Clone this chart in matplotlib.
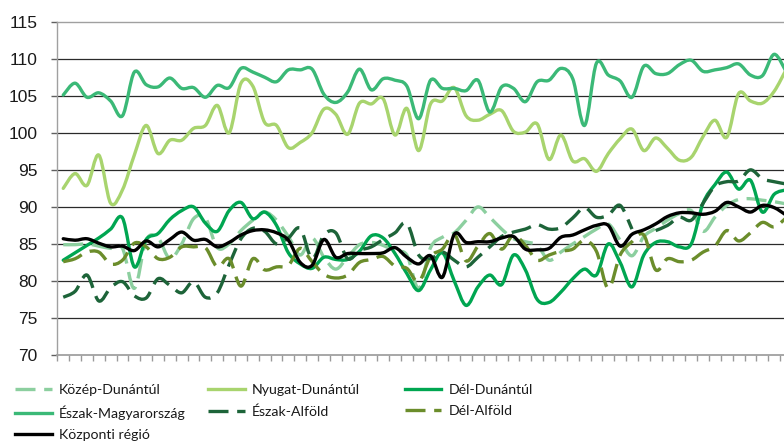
import numpy as np
import matplotlib
matplotlib.use("Agg")
import matplotlib.pyplot as plt
from matplotlib.path import Path
from matplotlib.patches import PathPatch
from matplotlib.lines import Line2D

# Havi indexértékek régiónként (leolvasva az ábráról)
kozep_dunantul = [84.9, 84.9, 85.0, 84.7, 84.4, 84.4, 79.0, 85.5, 85.8, 83.0,
                  85.0, 88.4, 88.5, 84.5, 85.0, 86.8, 88.2, 89.3, 88.2, 86.0,
                  83.5, 85.8, 83.2, 81.6, 83.2, 84.9, 85.2, 84.8, 84.0, 83.5,
                  79.0, 84.5, 85.9, 86.5, 88.2, 90.0, 88.6, 87.0, 85.7, 85.3,
                  84.8, 82.8, 83.9, 85.0, 86.0, 87.0, 87.7, 85.5, 83.4, 86.0,
                  87.1, 88.2, 89.1, 89.5, 86.7, 88.6, 90.2, 91.0, 91.1, 90.9,
                  90.7, 90.4]
nyugat_dunantul = [92.5, 94.5, 92.9, 97.0, 90.5, 92.3, 97.0, 101.0, 97.2, 99.0,
                   99.0, 100.6, 101.0, 103.7, 100.0, 106.7, 106.3, 101.4, 101.0, 98.0,
                   98.7, 100.0, 103.2, 102.5, 99.8, 104.0, 103.9, 104.6, 99.7, 103.3,
                   97.6, 103.9, 104.3, 106.1, 102.3, 101.7, 102.5, 103.0, 100.2, 100.1,
                   101.2, 96.4, 99.7, 96.2, 96.5, 94.8, 97.2, 99.2, 100.5, 97.6,
                   99.3, 97.9, 96.3, 96.7, 99.5, 101.7, 99.4, 105.3, 104.3, 104.0,
                   105.6, 108.5]
del_dunantul = [82.8, 83.8, 84.8, 85.8, 87.0, 88.5, 81.9, 85.6, 86.4, 88.3,
                89.5, 90.0, 87.8, 86.7, 89.5, 90.6, 88.4, 89.3, 87.5, 83.8,
                82.3, 81.7, 83.2, 82.9, 82.9, 84.0, 86.1, 85.8, 83.7, 81.0,
                78.7, 81.5, 83.8, 80.0, 76.7, 79.2, 80.8, 79.5, 83.5, 81.5,
                77.5, 77.1, 78.5, 80.3, 81.6, 80.8, 85.0, 82.5, 79.2, 83.5,
                85.2, 85.3, 84.6, 85.0, 90.5, 93.0, 94.7, 92.4, 93.6, 89.3,
                91.7, 92.3]
eszak_magyarorszag = [105.1, 106.7, 104.8, 105.4, 104.3, 102.3, 108.2, 106.5, 106.2, 107.4,
                      106.0, 106.1, 104.8, 106.4, 106.1, 108.7, 108.2, 107.5, 106.9, 108.5,
                      108.5, 108.6, 105.2, 104.1, 105.5, 108.6, 105.8, 107.3, 107.1, 106.3,
                      101.9, 107.1, 106.0, 106.0, 105.7, 107.1, 102.8, 106.2, 106.0, 104.2,
                      106.9, 107.1, 108.7, 107.3, 101.0, 109.4, 107.8, 107.0, 104.8, 109.0,
                      108.0, 108.0, 109.2, 109.8, 108.3, 108.5, 108.8, 109.3, 107.8, 107.7,
                      110.6, 108.3]
eszak_alfold = [77.8, 78.6, 80.8, 77.3, 79.1, 79.9, 78.0, 77.7, 80.3, 79.4,
                78.4, 79.9, 77.8, 78.4, 82.2, 85.7, 87.1, 86.7, 85.0, 85.8,
                87.1, 83.0, 86.2, 86.5, 83.0, 84.1, 84.6, 85.6, 86.5, 87.8,
                83.5, 83.0, 83.9, 82.8, 81.9, 83.2, 84.6, 86.0, 86.6, 87.0,
                87.6, 87.0, 87.2, 88.5, 89.9, 88.6, 88.9, 90.2, 87.0, np.nan,
                86.8, 87.5, 88.6, 88.2, 90.5, 92.8, 93.4, 93.5, 95.0, 93.8,
                93.4, 93.1]
del_alfold = [82.6, 83.0, 83.9, 83.9, 82.3, 82.8, 85.1, 84.6, 83.0, 83.2,
              84.6, 84.6, 84.5, 81.9, 83.0, 79.3, 83.0, 81.5, 81.9, 82.1,
              84.4, 82.6, 80.9, 80.4, 80.8, 82.5, 82.9, 83.3, 82.0, 81.7,
              79.9, 83.3, 84.3, 86.3, 82.7, 84.7, 86.4, 84.3, 86.2, 84.8,
              82.8, 83.5, 84.0, 84.3, 85.5, 84.0, 79.0, 83.5, 85.3, 86.2,
              81.5, 83.0, 82.6, 82.8, 83.9, 84.7, 86.8, 85.4, 86.5, 87.9,
              87.3, 88.5]
kozponti_regio = [85.7, 85.5, 85.7, 85.1, 84.6, 84.7, 84.1, 85.4, 84.6, 85.6,
                  86.6, 85.5, 85.6, 84.6, 85.2, 86.2, 86.8, 86.9, 86.5, 85.5,
                  82.5, 82.1, 85.6, 83.2, 83.7, 83.7, 83.7, 83.8, 84.5, 83.2,
                  82.3, 83.4, 80.5, 86.3, 85.2, 85.3, 85.3, 85.8, 86.0, 84.3,
                  84.2, 84.4, 85.9, 86.2, 86.9, 87.5, 87.5, 84.7, 86.3, 86.9,
                  87.7, 88.7, 89.2, 89.2, 89.0, 89.4, 90.6, 90.0, 89.3, 90.2,
                  89.9, 88.9]

DASH = (6, 2.6)
series = [
    ("Közép-Dunántúl", kozep_dunantul, "#8ccf9f", DASH),
    ("Nyugat-Dunántúl", nyugat_dunantul, "#a8d46e", None),
    ("Dél-Dunántúl", del_dunantul, "#00a651", None),
    ("Észak-Magyarország", eszak_magyarorszag, "#3bb977", None),
    ("Észak-Alföld", eszak_alfold, "#1d6439", DASH),
    ("Dél-Alföld", del_alfold, "#6b8d2b", DASH),
    ("Központi régió", kozponti_regio, "#000000", None),
]


def smooth_path(xs, ys):
    """Sima (Excel-szerű) görbe a pontokon át, köbös Bézier-szakaszokkal."""
    verts, codes = [], []
    ys = np.asarray(ys, float)
    ok = ~np.isnan(ys)
    i = 0
    while i < len(ys):
        if not ok[i]:
            i += 1
            continue
        j = i
        while j + 1 < len(ys) and ok[j + 1]:
            j += 1
        px, py = xs[i:j + 1], ys[i:j + 1]
        m = len(px)
        verts.append((px[0], py[0])); codes.append(Path.MOVETO)
        for k in range(m - 1):
            k0, k2 = max(k - 1, 0), min(k + 2, m - 1)
            c1 = (px[k] + (px[k + 1] - px[k0]) / 6, py[k] + (py[k + 1] - py[k0]) / 6)
            c2 = (px[k + 1] - (px[k2] - px[k]) / 6, py[k + 1] - (py[k2] - py[k]) / 6)
            verts += [c1, c2, (px[k + 1], py[k + 1])]
            codes += [Path.CURVE4] * 3
        i = j + 1
    return Path(verts, codes)


fig = plt.figure(figsize=(7.84, 4.45), dpi=100)
ax = fig.add_axes([0.0731, 0.2022, 0.9269, 0.749])

n = len(kozponti_regio)
x = np.arange(n, dtype=float)
handles = {}
for name, vals, color, dash in series:
    lw = 2.4
    ls = (0, dash) if dash else "solid"
    ax.add_patch(PathPatch(smooth_path(x, vals), fill=False, edgecolor=color,
                           lw=lw, linestyle=ls, joinstyle="round",
                           capstyle="butt" if dash else "round"))
    h = Line2D([], [], color=color, lw=lw)
    if dash:
        h.set_dashes(dash)
    handles[name] = h

ax.set_xlim(-0.5, 60.83)
ax.set_ylim(70, 115)
ax.set_yticks(np.arange(70, 116, 5))
ax.set_xticks(np.arange(-0.5, 61, 1))
ax.set_xticklabels([])

for yv in range(75, 115, 5):
    ax.axhline(yv, color="#2a2a2a", lw=0.9, zorder=0)

ax.spines["right"].set_visible(False)
ax.spines["top"].set_color("#a0a0a0")
ax.spines["top"].set_linewidth(1.0)
ax.spines["left"].set_color("#a0a0a0")
ax.spines["left"].set_linewidth(1.0)
ax.spines["bottom"].set_color("#a0a0a0")
ax.spines["bottom"].set_linewidth(1.3)

ax.tick_params(axis="y", direction="out", length=4, width=1, color="#606060",
               pad=10, labelsize=12.5)
ax.tick_params(axis="x", direction="out", length=4, width=1, color="#9a9a9a")
for lab in ax.get_yticklabels():
    lab.set_fontfamily(["Liberation Sans", "DejaVu Sans"])
    lab.set_color("#1a1a1a")

# Jelmagyarázat: három oszlop, soronként kitöltve
columns = [
    (0.019, ["Közép-Dunántúl", "Észak-Magyarország", "Központi régió"]),
    (0.265, ["Nyugat-Dunántúl", "Észak-Alföld"]),
    (0.516, ["Dél-Dunántúl", "Dél-Alföld"]),
]
for xa, names in columns:
    leg = fig.legend([handles[k] for k in names], names, loc="upper left",
                     bbox_to_anchor=(xa, 0.137), frameon=False,
                     handlelength=2.6, handletextpad=0.5, labelspacing=0.66,
                     borderpad=0, borderaxespad=0,
                     prop={"family": ["Lato", "DejaVu Sans"], "size": 10.2})
    for t in leg.get_texts():
        t.set_color("#1a1a1a")

fig.savefig("out.png", dpi=100)
